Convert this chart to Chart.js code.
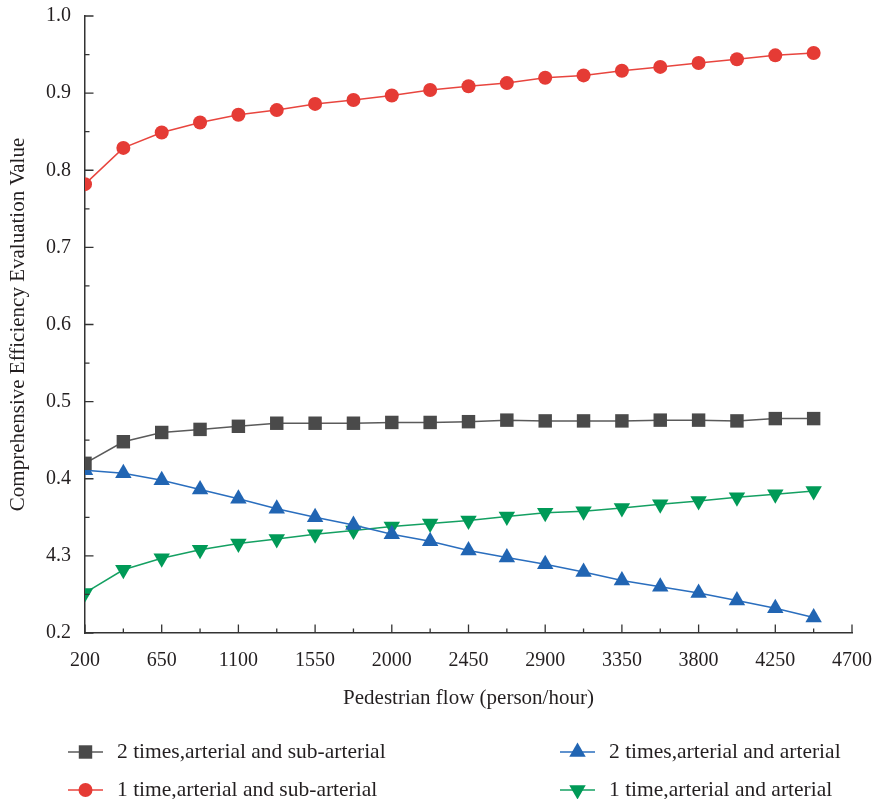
<!DOCTYPE html>
<html>
<head>
<meta charset="utf-8">
<script src="https://cdn.jsdelivr.net/npm/chart.js@4.4.1/dist/chart.umd.min.js"></script>
<style>
  html, body { margin: 0; padding: 0; background: #fff; }
</style>
</head>
<body>
<canvas id="chart" width="873" height="799"></canvas>
<script>
// pedestrian flow (person/hour), one point every 225
const flow = [200, 425, 650, 875, 1100, 1325, 1550, 1775, 2000, 2225, 2450, 2675, 2900, 3125, 3350, 3575, 3800, 4025, 4250, 4475];
// evaluation values
const twoTimesSub = [0.420, 0.448, 0.460, 0.464, 0.468, 0.472, 0.472, 0.472, 0.473, 0.473, 0.474, 0.476, 0.475, 0.475, 0.475, 0.476, 0.476, 0.475, 0.478, 0.478];
const twoTimesArt = [0.411, 0.407, 0.398, 0.386, 0.374, 0.361, 0.350, 0.340, 0.328, 0.319, 0.307, 0.298, 0.289, 0.279, 0.268, 0.260, 0.252, 0.242, 0.232, 0.220];
const oneTimeSub = [0.782, 0.829, 0.849, 0.862, 0.872, 0.878, 0.886, 0.891, 0.897, 0.904, 0.909, 0.913, 0.920, 0.923, 0.929, 0.934, 0.939, 0.944, 0.949, 0.952];
const oneTimeArt = [0.252, 0.282, 0.297, 0.308, 0.316, 0.322, 0.328, 0.333, 0.338, 0.342, 0.346, 0.351, 0.356, 0.358, 0.362, 0.367, 0.371, 0.376, 0.380, 0.384];
const seriesNames = [
  "2 times,arterial and sub-arterial",
  "2 times,arterial and arterial",
  "1 time,arterial and sub-arterial",
  "1 time,arterial and arterial",
];
// y tick labels as printed in the figure (0.3 shows up as "4.3")
const yTickLabels = ["0.2", "4.3", "0.4", "0.5", "0.6", "0.7", "0.8", "0.9", "1.0"];

const serif = "'Liberation Serif', 'Times New Roman', serif";
const textColor = "#231f20";
const axisColor = "#333333";

const toPoints = (ys) => flow.map((x, i) => ({ x: x, y: ys[i] }));

//inward major/minor tick marks, like the original plot
const innerTicks = {
  id: "innerTicks",
  afterDraw(chart) {
    const ctx = chart.ctx;
    const xs = chart.scales.x;
    const ys = chart.scales.y;
    ctx.save();
    ctx.strokeStyle = axisColor;
    ctx.lineWidth = 1.3;
    ctx.beginPath();
    xs.ticks.forEach((t, i) => {
      const px = xs.getPixelForValue(t.value);
      ctx.moveTo(px, xs.top);
      ctx.lineTo(px, xs.top - 8.5);
      if (i < xs.ticks.length - 1) {
        const mx = xs.getPixelForValue((t.value + xs.ticks[i + 1].value) / 2);
        ctx.moveTo(mx, xs.top);
        ctx.lineTo(mx, xs.top - 4.5);
      }
    });
    ys.ticks.forEach((t, i) => {
      const py = ys.getPixelForValue(t.value);
      ctx.moveTo(ys.right, py);
      ctx.lineTo(ys.right + 8.5, py);
      if (i < ys.ticks.length - 1) {
        const my = ys.getPixelForValue((t.value + ys.ticks[i + 1].value) / 2);
        ctx.moveTo(ys.right, my);
        ctx.lineTo(ys.right + 4.5, my);
      }
    });
    ctx.stroke();
    ctx.restore();
  },
};

//two column legend under the axis
const gridLegend = {
  id: "gridLegend",
  afterDraw(chart) {
    const ctx = chart.ctx;
    const cols = [68, 560];
    const rows = [752, 790];
    ctx.save();
    chart.data.datasets.forEach((ds, i) => {
      const x0 = cols[i % 2];
      const y0 = rows[Math.floor(i / 2)];
      ctx.strokeStyle = ds.borderColor;
      ctx.lineWidth = ds.borderWidth;
      ctx.beginPath();
      ctx.moveTo(x0, y0);
      ctx.lineTo(x0 + 35, y0);
      ctx.stroke();
      ctx.fillStyle = ds.pointBackgroundColor;
      Chart.helpers.drawPoint(ctx, {
        pointStyle: ds.pointStyle,
        rotation: ds.pointRotation || 0,
        radius: ds.pointRadius,
        borderWidth: 0,
      }, x0 + 17.5, y0);
      ctx.fillStyle = textColor;
      ctx.font = "21.5px " + serif;
      ctx.textBaseline = "middle";
      ctx.textAlign = "left";
      ctx.fillText(ds.label, x0 + 49, y0);
    });
    ctx.restore();
  },
};

const myChart = new Chart(document.getElementById("chart"), {
  type: "line",
  data: {
    datasets: [
      {
        label: seriesNames[0],
        data: toPoints(twoTimesSub),
        borderColor: "#5a5a5a",
        borderWidth: 1.5,
        pointStyle: "rect",
        pointRadius: 9.5,
        pointBackgroundColor: "#4a4a4a",
        pointBorderWidth: 0,
      },
      {
        label: seriesNames[1],
        data: toPoints(twoTimesArt),
        borderColor: "#2a6ebe",
        borderWidth: 1.5,
        pointStyle: "triangle",
        pointRadius: 9.5,
        pointBackgroundColor: "#2165b3",
        pointBorderWidth: 0,
      },
      {
        label: seriesNames[2],
        data: toPoints(oneTimeSub),
        borderColor: "#e8453e",
        borderWidth: 1.5,
        pointStyle: "circle",
        pointRadius: 7,
        pointBackgroundColor: "#e53b35",
        pointBorderWidth: 0,
      },
      {
        label: seriesNames[3],
        data: toPoints(oneTimeArt),
        borderColor: "#14a062",
        borderWidth: 1.5,
        pointStyle: "triangle",
        pointRotation: 180,
        pointRadius: 9.5,
        pointBackgroundColor: "#009a57",
        pointBorderWidth: 0,
      },
    ],
  },
  options: {
    responsive: false,
    animation: false,
    layout: { padding: { top: 16, right: 21, bottom: 88, left: 0 } },
    elements: { line: { tension: 0 } },
    plugins: {
      legend: { display: false },
      tooltip: { enabled: false },
    },
    scales: {
      x: {
        type: "linear",
        min: 200,
        max: 4700,
        ticks: {
          stepSize: 450,
          padding: 16,
          autoSkip: false,
          maxRotation: 0,
          color: textColor,
          font: { family: serif, size: 20 },
          callback: (value) => String(value),
        },
        grid: { drawOnChartArea: false, drawTicks: false },
        border: { display: true, color: axisColor, width: 1.5 },
        title: {
          display: true,
          text: "Pedestrian flow (person/hour)",
          color: textColor,
          font: { family: serif, size: 21 },
          padding: { top: 2, bottom: 0 },
        },
        afterFit(scale) {
          scale.height = 78;
          //let the layout padding alone decide the side room
          scale.paddingLeft = 0;
          scale.paddingRight = 0;
        },
      },
      y: {
        min: 0.2,
        max: 1.0,
        ticks: {
          stepSize: 0.1,
          padding: 14,
          color: textColor,
          font: { family: serif, size: 20 },
          callback: (value, index) => yTickLabels[index],
        },
        grid: { drawOnChartArea: false, drawTicks: false },
        border: { display: true, color: axisColor, width: 1.5 },
        title: {
          display: true,
          text: "Comprehensive Efficiency Evaluation Value",
          color: textColor,
          font: { family: serif, size: 21 },
          padding: { top: 6, bottom: 0 },
        },
        afterFit(scale) {
          scale.width = 85;
          scale.paddingTop = 0;
          scale.paddingBottom = 0;
        },
      },
    },
  },
  plugins: [innerTicks, gridLegend],
});
</script>
</body>
</html>
